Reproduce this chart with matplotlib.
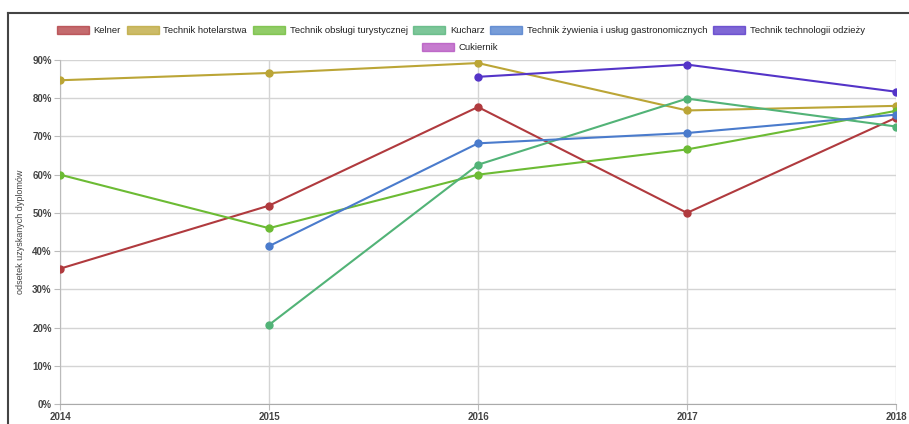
import numpy as np
import matplotlib
matplotlib.use("Agg")
import matplotlib.pyplot as plt
from matplotlib.patches import Patch
from matplotlib.lines import Line2D
from matplotlib.ticker import FuncFormatter

plt.rcParams['font.family'] = ['Liberation Sans', 'DejaVu Sans']

years = [2014, 2015, 2016, 2017, 2018]
nan = np.nan

kelner = [35.4, 51.9, 77.7, 50.0, 74.9]
hotelarstwa = [84.7, 86.6, 89.2, 76.8, 78.0]
turystycznej = [60.0, 46.0, 60.0, 66.6, 76.7]
kucharz = [nan, 20.7, 62.6, 79.9, 72.6]
zywienia = [nan, 41.3, 68.2, 70.9, 75.7]
odziezy = [nan, nan, 85.6, 88.8, 81.7]
cukiernik = [nan, nan, nan, nan, nan]

names = ['Kelner', 'Technik hotelarstwa', 'Technik obsługi turystycznej', 'Kucharz',
         'Technik żywienia i usług gastronomicznych', 'Technik technologii odzieży', 'Cukiernik']
series = [kelner, hotelarstwa, turystycznej, kucharz, zywienia, odziezy, cukiernik]
colors = ['#b03a3e', '#bba536', '#6cbb34', '#52b377', '#4a7bcc', '#5434c8', '#b34fbf']

fig = plt.figure(figsize=(9.09, 4.24), dpi=100)
ax = fig.add_axes([60/909, 20/424, (896-60)/909, (404-60)/424])

for vals, c in zip(series, colors):
    ax.plot(years, np.array(vals) / 100, color=c, lw=1.5, marker='o', ms=5, zorder=3)

ax.set_xlim(2014, 2018)
ax.set_ylim(0, 0.9)
ax.set_xticks(years)
ax.set_yticks(np.arange(0, 0.91, 0.1))
ax.yaxis.set_major_formatter(FuncFormatter(lambda v, p: '%d%%' % round(v * 100)))
ax.grid(True, color='#d4d4d4', lw=1)
ax.set_axisbelow(True)
for s in ['top', 'right']:
    ax.spines[s].set_visible(False)
ax.spines['left'].set_color('#bbbbbb')
ax.spines['bottom'].set_color('#aaaaaa')
ax.tick_params(length=4, color='#bbbbbb', labelsize=7, labelcolor='#444444', pad=2)
for t in ax.get_xticklabels() + ax.get_yticklabels():
    t.set_fontweight('bold')
ax.set_ylabel('odsetek uzyskanych dyplomów', fontsize=6.5, color='#444444', labelpad=5)

handles = [Patch(facecolor=c, edgecolor=c, alpha=0.75, lw=1) for c in colors]
leg_kw = dict(frameon=False, fontsize=6.8, handlelength=3.4, handleheight=0.95,
              handletextpad=0.5, columnspacing=0.6, labelcolor='#222222')
fig.legend(handles[:6], names[:6], ncol=6, loc='center', bbox_to_anchor=(461/909, 1 - 30.5/424), **leg_kw)
fig.legend(handles[6:], names[6:], ncol=1, loc='center', bbox_to_anchor=(460/909, 1 - 47.5/424), **leg_kw)

# frame of the screenshot
fig.add_artist(Line2D([8/909, 8/909], [0, 1 - 13/424], color='#444444', lw=1.5, transform=fig.transFigure))
fig.add_artist(Line2D([8/909, 1], [1 - 13/424, 1 - 13/424], color='#444444', lw=1.5, transform=fig.transFigure))

fig.savefig('out.png', dpi=100)
